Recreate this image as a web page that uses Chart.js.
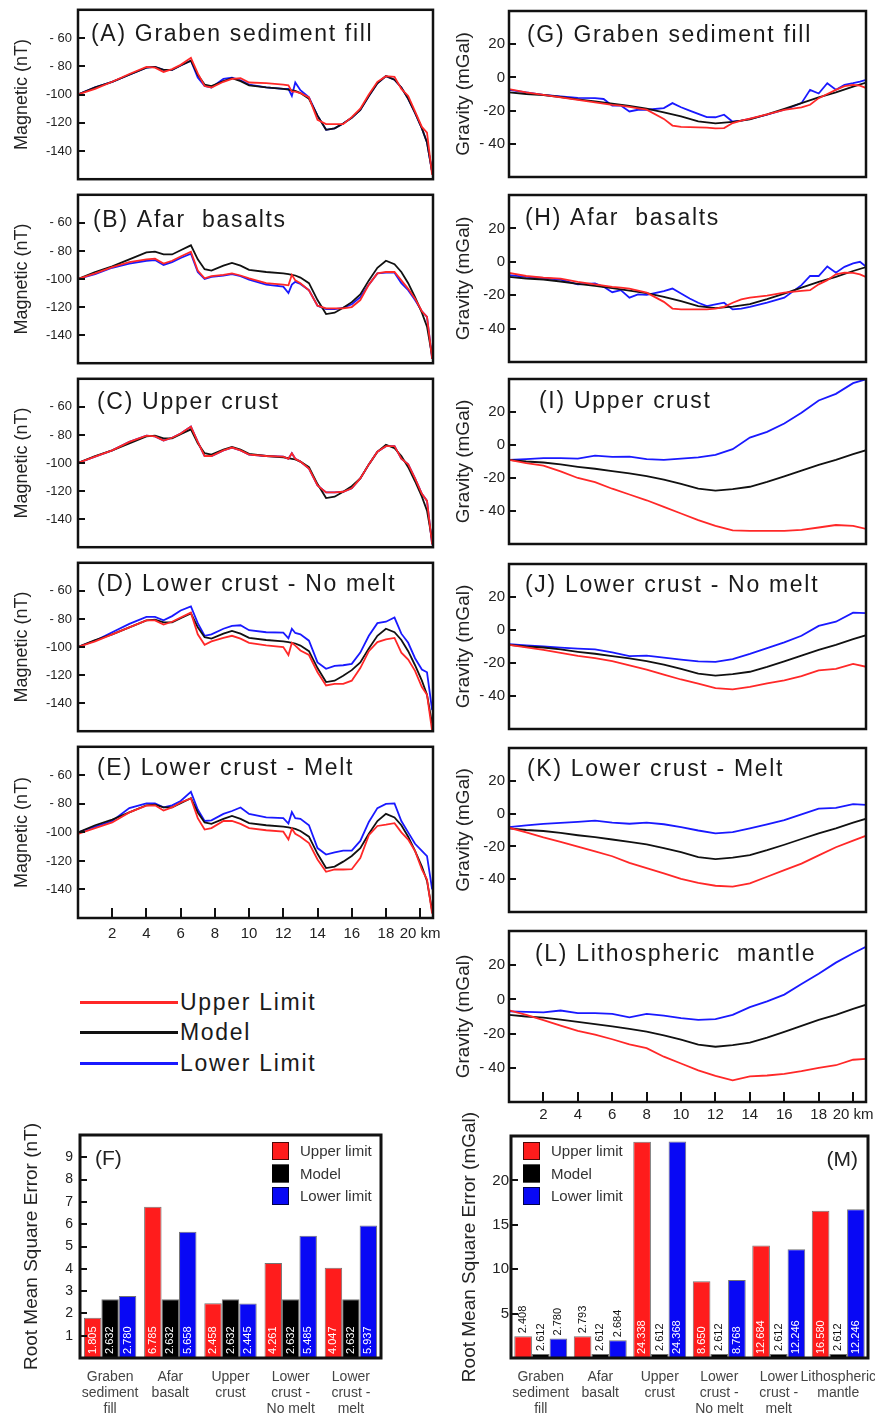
<!DOCTYPE html>
<html><head><meta charset="utf-8">
<script src="https://cdn.jsdelivr.net/npm/chart.js@4.4.1/dist/chart.umd.min.js"></script>
<style>
html,body{margin:0;padding:0;background:#fff;}
body{width:875px;height:1418px;overflow:hidden;position:relative;}
canvas{position:absolute;}
.lgt{position:absolute;font-family:"Liberation Sans",Arial,Helvetica,sans-serif;font-size:23px;letter-spacing:1.7px;color:#1a1a1a;line-height:23px;white-space:nowrap;}
.lgl{position:absolute;height:3px;width:98px;left:80px;}
</style></head><body>
<script>
// ---------------- DATA ----------------
const magX = [0,1,2,3,4,4.5,5,5.5,6,6.6,7,7.4,7.8,8.5,9,9.5,10,11,12,12.3,12.5,12.7,13,13.5,14,14.5,15,15.5,16,16.5,17,17.5,18,18.5,18.9,19.3,19.7,20.1,20.4,20.7];
const magModel = [-100,-95,-91,-86,-81,-80.5,-82.5,-82.5,-79.5,-76,-86,-93,-94,-90.5,-88.5,-90.5,-93.5,-95,-96,-96.5,-97,-97.5,-99,-103,-115,-125,-124,-120.5,-116.5,-111,-101,-92,-87,-89.5,-95,-103,-113,-124,-134,-155];
const aUpper = [-100,-96,-91,-85.5,-80.5,-81,-84,-82,-79,-74,-85,-94,-95,-91,-89,-88.5,-91.5,-92,-93,-93.5,-98,-98,-99,-102,-118,-121,-121,-121,-116,-110,-100,-91,-87,-87.5,-96,-101,-112,-123,-127,-157];
const aLower = [-100,-95,-91,-86,-81,-80.5,-82.5,-82.5,-79.5,-76,-88,-94,-95,-89,-88,-90,-93,-95,-96,-96,-101,-91.5,-97,-102,-115,-125,-124,-120.5,-116.5,-111,-101,-92,-87,-89.5,-95,-103,-113,-124,-134,-155];
const bUpper = [-100,-96,-91.5,-88,-86,-85.5,-89,-87,-84,-80.5,-94,-99.5,-98,-97,-96,-97.5,-99.5,-103,-104,-104.5,-97,-101,-103,-108,-119,-121,-121,-121,-120,-115,-104,-96,-95,-95,-101,-107,-114,-123,-127,-157];
const bLower = [-100,-96.5,-92,-89,-87,-86.5,-90,-88,-85,-82,-95,-100,-98.5,-97.5,-96.5,-98,-100.5,-104,-105.5,-110,-104,-102,-103.5,-108,-119,-121.5,-121.5,-120.5,-118,-113,-104,-96,-95.5,-95.5,-103,-108,-115,-123,-127,-157];
const cUpper = [-100,-95.5,-91,-85,-80.5,-81,-84,-82,-79,-74,-85,-95,-95,-91,-89,-91,-94,-95,-95.5,-97,-93,-97,-99,-104,-116,-121,-121,-120.5,-118,-111,-101,-92,-88,-88,-97,-101,-111,-122,-127,-158];
const cLower = [-100,-95.5,-91,-85,-80.5,-81,-84,-82,-79,-74,-85,-95,-95,-91,-89,-91,-94,-95,-95.5,-97,-93,-97,-99,-104,-116,-121,-121,-120.5,-118,-111,-101,-92,-88,-88,-97,-101,-111,-122,-127,-158];
const dUpper = [-100,-96,-91,-86,-81,-81,-84,-82,-79,-75.5,-91,-98.4,-96,-93.5,-92,-94,-97,-98.8,-100,-105.7,-97,-99,-102.5,-105.7,-118,-127.4,-126.3,-126.3,-124,-115,-103,-96.5,-94.5,-93.5,-104,-109,-117,-128.5,-134,-160];
const dLower = [-100,-95.5,-89.5,-83.5,-78.5,-78.5,-81,-78,-74,-71,-83,-92,-91,-87,-85,-84.5,-88,-89.5,-89.7,-93.8,-87,-90,-91,-95.5,-111,-115.5,-113.5,-113,-112,-104,-92,-83,-82,-79,-90.5,-97,-108,-116,-118,-145];
const eUpper = [-101,-97,-93,-86,-81.2,-81,-84.7,-82.5,-79,-76.2,-90,-98,-97,-92,-92,-94,-97,-98.5,-99.5,-105,-97.5,-101,-103,-107.5,-119,-127.6,-126,-126,-125.8,-118,-102,-95.5,-94.6,-93.5,-100,-105,-113,-126,-133,-157];
const eLower = [-100,-96,-92,-83,-79.7,-79.7,-82.4,-81,-78,-71.6,-84,-92,-91.5,-87,-85,-82.5,-87,-89.5,-90,-93.8,-85.8,-90,-90.5,-95,-111,-115.5,-114,-112.8,-112.8,-106,-92.7,-83,-80,-79.7,-92,-100,-108,-113,-116.6,-140];

const gravX = [0,1,2,3,4,5,6,7,8,9,10,11,12,13,14,15,16,17,18,19,20,20.8];
const gravXFine = [0,1,2,3,4,5,5.5,6,6.5,7,7.5,8,9,9.5,10,10.5,11,11.5,12,12.5,13,13.5,14,15,16,17,17.5,18,18.5,19,19.5,20,20.4,20.8];
const gravModel = [-9,-10,-10.6,-11.8,-13.2,-14.4,-15.8,-17.2,-18.8,-21,-23.5,-26.5,-27.7,-26.8,-25.3,-22.3,-19,-15.5,-12,-9,-5.5,-3];
const gUpper = [-7,-9,-10.5,-12,-13.5,-15,-15.8,-16.5,-17,-17.8,-18.6,-19.4,-25,-29,-29.8,-30,-30.1,-30.3,-30.7,-30.5,-27.5,-26,-24.8,-22.3,-19.6,-18.1,-16.5,-12.5,-10,-7.5,-5.3,-4.5,-5,-6.6];
const gLower = [-7.5,-9,-10.5,-11.5,-12.3,-12.5,-13,-17,-17,-20.5,-19.5,-19.5,-18.5,-15.5,-18,-20,-22,-23.9,-24,-22.5,-26.7,-26,-25,-22.5,-19.5,-15.5,-7.5,-9.7,-3.5,-7.4,-4.5,-3.5,-2.6,-1.3];
const hUpper = [-6.6,-8.5,-9.5,-10.1,-12,-13.5,-14.3,-15,-15.5,-16,-17.3,-18.5,-24,-28,-28.5,-28.5,-28.5,-28.5,-28,-27,-24.5,-22.5,-21.5,-20.3,-18.5,-17.4,-17,-13.5,-11,-7.5,-6.5,-6.6,-7.5,-9.3];
const hLower = [-8,-9,-9.7,-10.7,-13.5,-13,-15,-18.2,-17,-21.5,-19.5,-19.8,-17.5,-16,-19,-22,-24.5,-26.5,-25.5,-24.5,-28.5,-28,-27,-24.5,-21.5,-14,-8.5,-8.5,-2.8,-6.5,-3,-1,0,-3.3];
const iUpper = [-9,-11,-12.5,-16,-20,-22.5,-26.5,-30,-33.5,-37.5,-41.5,-45.5,-49,-51.8,-52,-52,-52,-51.5,-50,-48.5,-49,-51];
const iLower = [-9,-8.5,-8,-8,-8.2,-6.5,-7.2,-7,-8.5,-9,-8.3,-7.5,-6,-2.5,4.5,8,13,19.5,27,31,37.5,40];
const jUpper = [-9,-10.5,-12,-13.8,-15.7,-17,-18.8,-21.5,-24,-27,-30,-32.5,-35.2,-36,-34.5,-32.3,-30.5,-28,-24.5,-23.5,-20.5,-22.4];
const jLower = [-8.5,-9.3,-10,-10.7,-11.3,-11.7,-13.5,-15.8,-15.5,-16.8,-18,-19,-19.3,-17.6,-14.5,-11,-7.5,-3.5,2.5,5,10.5,10.2];
const kUpper = [-8.6,-11.5,-14.5,-17.2,-20.2,-23,-26,-30,-33.3,-36.5,-39.8,-42.3,-44,-44.5,-42.5,-38.5,-34.5,-30.5,-25.5,-20.5,-16.5,-13.3];
const kLower = [-8.2,-7.2,-6.3,-5.7,-5,-4.3,-5.5,-6.2,-5.5,-6.5,-8.3,-10.3,-12,-11.3,-9,-6.5,-4,-0.5,3,3.5,5.8,5.3];
const lUpper = [-6.4,-9,-12.1,-15.3,-18.4,-20.6,-23.3,-26.3,-28.5,-33.5,-37.5,-41.5,-44.7,-47.3,-45,-44.5,-43.5,-42,-40,-38.5,-35.3,-34.8];
const lLower = [-7,-7.3,-7.6,-6.5,-8,-8,-8.5,-10.5,-8.5,-9.5,-11,-12,-11.5,-9,-4.5,-1.2,2.8,9,15,21.5,27,31];

const xTickVals = [2,4,6,8,10,12,14,16,18,20];
const xTickText = ['2','4','6','8','10','12','14','16','18','20 km'];
const magTickVals = [-60,-80,-100,-120,-140];
const magTickText = ['- 60','- 80','-100','-120','-140'];
const gravTickVals = [20,0,-20,-40];
const gravTickText = ['20','0','-20','- 40'];

const magTitles = ['(A) Graben sediment fill','(B) Afar  basalts','(C) Upper crust','(D) Lower crust - No melt','(E) Lower crust - Melt'];
const gravTitles = ['(G) Graben sediment fill','(H) Afar  basalts','(I) Upper crust','(J) Lower crust - No melt','(K) Lower crust - Melt','(L) Lithospheric  mantle'];
const legendLabels = ['Upper Limit','Model','Lower Limit'];

const fCategories = [['Graben','sediment','fill'],['Afar','basalt'],['Upper','crust'],['Lower','crust -','No melt'],['Lower','crust -','melt']];
const fUpper = [1.805,6.785,2.458,4.261,4.047];
const fModel = [2.632,2.632,2.632,2.632,2.632];
const fLower = [2.780,5.658,2.445,5.485,5.937];
const mCategories = [['Graben','sediment','fill'],['Afar','basalt'],['Upper','crust'],['Lower','crust -','No melt'],['Lower','crust -','melt'],['Lithospheric','mantle']];
const mUpper = [2.45,2.45,24.34,8.65,12.68,16.58];
const mModel = [0.45,0.45,0.45,0.45,0.45,0.45];
const mLower = [2.2,2.0,24.37,8.77,12.25,16.75];
const mUpperText = ['2.408','2.793','24.338','8.650','12.684','16.580'];
const mModelText = ['2.612','2.612','2.612','2.612','2.612','2.612'];
const mLowerText = ['2.780','2.684','24.368','8.768','12.246','12.246'];
const barSeriesNames = ['Upper limit','Model','Lower limit'];

// ---------------- LAYOUT / STYLE ----------------
const FONT = '"Liberation Sans", Arial, Helvetica, sans-serif';
Chart.defaults.font.family = FONT;
Chart.defaults.color = '#222';
const RED = 'rgb(255,40,40)', BLACK = '#111', BLUE = 'rgb(25,25,255)';
const BAR_RED = 'rgb(255,28,28)', BAR_BLUE = 'rgb(8,8,245)';

const magLayout = [
  {top:6,bottom:183,tx:13,ty:31},
  {top:191,bottom:367,tx:15,ty:32},
  {top:375,bottom:551,tx:19,ty:30.5},
  {top:559,bottom:735,tx:19,ty:28},
  {top:743,bottom:918,tx:19,ty:28,xl:true,tl:7}
];
const gravLayout = [
  {top:6,bottom:182,tx:18,ty:31},
  {top:190,bottom:367,tx:16,ty:30},
  {top:374,bottom:549,tx:30,ty:29},
  {top:559,bottom:734,tx:16,ty:28},
  {top:743,bottom:917,tx:18,ty:28},
  {top:926,bottom:1102,tx:26,ty:29.5,xl:true,tl:4}
];

function mkCanvas(left, top, w, h) {
  const c = document.createElement('canvas');
  c.width = w; c.height = h;
  c.style.left = left + 'px'; c.style.top = top + 'px';
  c.style.width = w + 'px'; c.style.height = h + 'px';
  document.body.appendChild(c);
  return c;
}
function toXY(xs, ys) { return xs.map((x, i) => ({x: x, y: ys[i]})); }

const framePlugin = {
  id: 'frame',
  afterDraw(chart, args, o) {
    const ctx = chart.ctx, a = chart.chartArea;
    const xs = chart.scales.x, ys = chart.scales.y;
    ctx.save();
    ctx.strokeStyle = '#111';
    ctx.lineWidth = o.tickW || 2;
    if (o.yLen) {
      for (const t of ys.ticks) {
        if (t.value <= ys.min || t.value >= ys.max) continue;
        const p = Math.round(ys.getPixelForValue(t.value));
        ctx.beginPath(); ctx.moveTo(a.left, p); ctx.lineTo(a.left + o.yLen, p); ctx.stroke();
      }
    }
    if (o.xLen) {
      for (const t of xs.ticks) {
        if (t.value <= xs.min || t.value >= xs.max) continue;
        const p = Math.round(xs.getPixelForValue(t.value));
        ctx.beginPath(); ctx.moveTo(p, a.bottom); ctx.lineTo(p, a.bottom - o.xLen); ctx.stroke();
      }
    }
    ctx.lineWidth = o.boxW;
    ctx.strokeRect(a.left, a.top, a.right - a.left, a.bottom - a.top);
    if (o.title) {
      ctx.fillStyle = '#1a1a1a';
      ctx.font = o.titleFont;
      ctx.letterSpacing = o.ls || '0px';
      ctx.textAlign = 'left'; ctx.textBaseline = 'alphabetic';
      ctx.fillText(o.title, a.left + o.tx, a.top + o.ty);
    }
    ctx.restore();
  }
};

function makeLine(title, up, lo, xs, lay, kind) {
  const mag = kind === 'mag';
  const cLeft = mag ? 0 : 440;
  const cW = mag ? 452 : 447;
  const boxL = mag ? 78 : 69;
  const boxR = mag ? 433 : 426;
  const xH = lay.xl ? 36 : 4;
  const h = (lay.bottom - lay.top) + 4 + xH;
  const cv = mkCanvas(cLeft, lay.top - 4, cW, h);
  const yv = mag ? magTickVals : gravTickVals, yt = mag ? magTickText : gravTickText;
  const xcb = v => { const i = xTickVals.indexOf(v); return (lay.xl && i >= 0) ? xTickText[i] : null; };
  const ycb = v => { const i = yv.indexOf(v); return i >= 0 ? yt[i] : null; };
  const mx = mag ? magX : gravX, model = mag ? magModel : gravModel;
  const ds = (d, c) => ({data: d, borderColor: c, borderWidth: 1.8, pointRadius: 0, tension: 0, fill: false});
  new Chart(cv, {
    type: 'line',
    data: {datasets: [ds(toXY(xs, up), RED), ds(toXY(mx, model), BLACK), ds(toXY(xs, lo), BLUE)]},
    options: {
      responsive: false, animation: false, devicePixelRatio: 1,
      layout: {padding: {left: 0, top: 4, right: cW - boxR, bottom: 0}},
      plugins: {legend: {display: false}, tooltip: {enabled: false},
        frame: {yLen: 7, xLen: 10, boxW: 2.5, tickW: 2, title: title, tx: lay.tx, ty: lay.ty, titleFont: '23px ' + FONT, ls: '1.7px'}},
      scales: {
        x: {type: 'linear', min: 0, max: 20.75, border: {display: false},
            grid: {display: false, drawTicks: true, tickLength: lay.tl || 7},
            ticks: {stepSize: 2, includeBounds: false, autoSkip: false, maxRotation: 0, minRotation: 0, padding: 0, font: {size: 15}, color: '#222', callback: xcb},
            afterFit: s => { s.height = xH; }},
        y: {type: 'linear', min: mag ? -160 : -60, max: mag ? -40 : 40, border: {display: false},
            grid: {display: false, drawTicks: true, tickLength: mag ? 6 : 4},
            ticks: {stepSize: 10, includeBounds: false, autoSkip: false, padding: 0, font: {size: mag ? 13 : 15}, color: '#222', callback: ycb},
            title: {display: true, text: mag ? 'Magnetic (nT)' : 'Gravity (mGal)', font: {size: mag ? 18 : 19}, color: '#222', padding: {top: mag ? 11 : 12, bottom: 0}},
            afterFit: s => { s.width = boxL; }}
      }
    },
    plugins: [framePlugin]
  });
}

const magSets = [[aUpper,aLower],[bUpper,bLower],[cUpper,cLower],[dUpper,dLower],[eUpper,eLower]];
magSets.forEach((s, i) => makeLine(magTitles[i], s[0], s[1], magX, magLayout[i], 'mag'));
const gravSets = [[gUpper,gLower,gravXFine],[hUpper,hLower,gravXFine],[iUpper,iLower,gravX],[jUpper,jLower,gravX],[kUpper,kLower,gravX],[lUpper,lLower,gravX]];
gravSets.forEach((s, i) => makeLine(gravTitles[i], s[0], s[1], s[2], gravLayout[i], 'grav'));

// ---------------- legend (HTML) ----------------
[RED, BLACK, BLUE].forEach((c, i) => {
  const cy = 1002 + i * 30.5;
  const ln = document.createElement('div'); ln.className = 'lgl';
  ln.style.top = (cy - 1.5) + 'px'; ln.style.background = c;
  document.body.appendChild(ln);
  const tx = document.createElement('div'); tx.className = 'lgt';
  tx.style.left = '180px'; tx.style.top = (cy - 11.5) + 'px';
  tx.textContent = legendLabels[i];
  document.body.appendChild(tx);
});

// ---------------- bar charts ----------------
const barText = {
  id: 'barText',
  afterDatasetsDraw(chart, args, o) {
    const ctx = chart.ctx;
    ctx.save();
    ctx.font = '11px ' + FONT;
    ctx.textAlign = 'left'; ctx.textBaseline = 'middle';
    chart.data.datasets.forEach((ds, di) => {
      const meta = chart.getDatasetMeta(di);
      meta.data.forEach((bar, i) => {
        const txt = o.texts[di][i];
        const hgt = bar.base - bar.y;
        let y0, col;
        if (hgt > 36) { y0 = bar.base - 4; col = '#fff'; } else { y0 = bar.y - 3; col = '#111'; }
        ctx.save();
        ctx.translate(bar.x, y0); ctx.rotate(-Math.PI / 2);
        ctx.fillStyle = col; ctx.fillText(txt, 0, 0);
        ctx.restore();
      });
    });
    ctx.restore();
  }
};
const barLegend = {
  id: 'barLegend',
  afterDraw(chart, args, o) {
    const ctx = chart.ctx, a = chart.chartArea;
    ctx.save();
    const x0 = o.fromRight ? a.right - o.dx : a.left + o.dx;
    chart.data.datasets.forEach((ds, i) => {
      const y = a.top + o.dy + i * 22.5;
      ctx.fillStyle = ds.backgroundColor; ctx.fillRect(x0, y, 17, 18);
      ctx.strokeStyle = 'rgba(0,0,0,0.7)'; ctx.lineWidth = 1; ctx.strokeRect(x0 + 0.5, y + 0.5, 16, 17);
      ctx.fillStyle = '#333'; ctx.font = '15px ' + FONT; ctx.textBaseline = 'middle'; ctx.textAlign = 'left';
      ctx.fillText(ds.label, x0 + 28, y + 10);
    });
    ctx.font = '21px ' + FONT; ctx.fillStyle = '#222'; ctx.textBaseline = 'alphabetic';
    ctx.textAlign = o.letterRight ? 'right' : 'left';
    ctx.fillText(o.letter, o.letterRight ? a.right - 10 : a.left + 15, a.top + 30);
    ctx.restore();
  }
};

function makeBar(opt) {
  const cv = mkCanvas(opt.left, 1110, opt.w, 308);
  const mk = (label, data, color) => ({label: label, data: data, backgroundColor: color, borderColor: 'rgba(0,0,0,0.55)', borderWidth: 1, categoryPercentage: opt.cat, barPercentage: 1});
  new Chart(cv, {
    type: 'bar',
    data: {labels: opt.labels, datasets: [mk(barSeriesNames[0], opt.up, BAR_RED), mk(barSeriesNames[1], opt.mod, '#000'), mk(barSeriesNames[2], opt.lo, BAR_BLUE)]},
    options: {
      responsive: false, animation: false, devicePixelRatio: 1,
      layout: {padding: {left: 0, top: opt.padTop, right: opt.padRight, bottom: 0}},
      plugins: {legend: {display: false}, tooltip: {enabled: false},
        frame: {yLen: 7, xLen: 0, boxW: 3, tickW: 2},
        barText: {texts: opt.texts},
        barLegend: opt.legend},
      scales: {
        x: {border: {display: false}, grid: {display: false, drawTicks: true, tickLength: 11},
            ticks: {font: {size: 14, lineHeight: 1.15}, color: '#444', padding: 0, maxRotation: 0, minRotation: 0, autoSkip: false},
            afterFit: s => { s.height = 60; }},
        y: {min: 0, max: opt.max, border: {display: false}, grid: {display: false, drawTicks: true, tickLength: opt.ytl},
            ticks: {stepSize: opt.step, includeBounds: false, autoSkip: false, padding: 0, font: {size: opt.yfs}, color: '#222',
                    callback: v => (v > 0 && v < opt.max) ? String(v) : null},
            title: {display: true, text: opt.ytitle, font: {size: 19}, color: '#222', padding: {top: opt.tpad, bottom: 0}},
            afterFit: s => { s.width = opt.yw; }}
      }
    },
    plugins: [framePlugin, barText, barLegend]
  });
}

makeBar({left: 0, w: 440, labels: fCategories, up: fUpper, mod: fModel, lo: fLower, cat: 0.87,
  texts: [fUpper.map(v => v.toFixed(3)), fModel.map(v => v.toFixed(3)), fLower.map(v => v.toFixed(3))],
  padTop: 25, padRight: 59, max: 10, step: 1, yfs: 14, ytl: 7, yw: 80, tpad: 20.5,
  ytitle: 'Root Mean Square Error (nT)',
  legend: {fromRight: true, dx: 109, dy: 7, letter: '(F)', letterRight: false}});

makeBar({left: 440, w: 445, labels: mCategories, up: mUpper, mod: mModel, lo: mLower, cat: 0.89,
  texts: [mUpperText, mModelText, mLowerText],
  padTop: 26, padRight: 17, max: 25, step: 5, yfs: 15, ytl: 2, yw: 71, tpad: 18.5,
  ytitle: 'Root Mean Square Error (mGal)',
  legend: {fromRight: false, dx: 12, dy: 6, letter: '(M)', letterRight: true}});
</script>
</body></html>
